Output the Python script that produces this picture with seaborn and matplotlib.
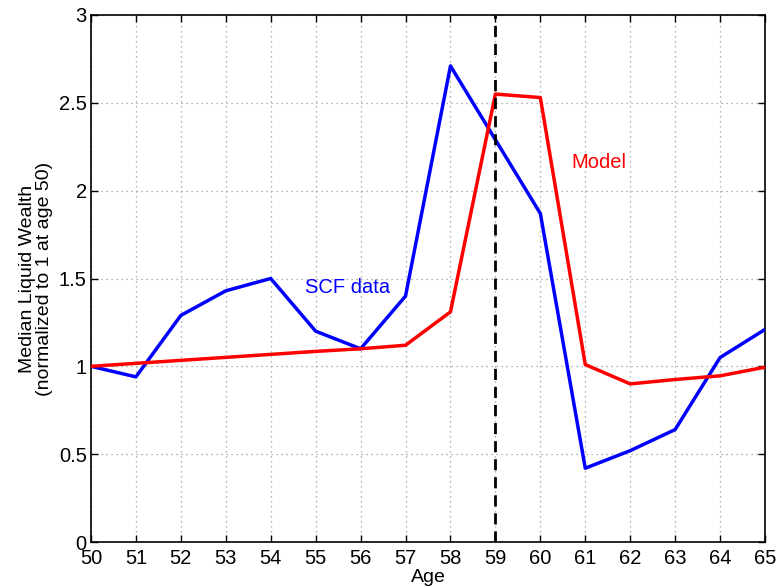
import matplotlib
matplotlib.use("Agg")
import matplotlib.pyplot as plt
import numpy as np
import pandas as pd
import seaborn as sns

# Ages and the two series
ages = list(range(50, 66))
scf_data = [1.00, 0.94, 1.29, 1.43, 1.50, 1.20, 1.10, 1.40,
            2.71, 2.29, 1.87, 0.42, 0.52, 0.64, 1.05, 1.21]
model = [1.00, 1.017, 1.034, 1.051, 1.068, 1.085, 1.10, 1.12,
         1.31, 2.55, 2.53, 1.01, 0.90, 0.925, 0.946, 0.995]
x_ticks = list(range(50, 66))
y_ticks = [0, 0.5, 1, 1.5, 2, 2.5, 3]
y_tick_labels = ["0", "0.5", "1", "1.5", "2", "2.5", "3"]
retire_age = 59

sns.set_theme(style="ticks")
plt.rcParams["font.family"] = ["Liberation Sans", "DejaVu Sans"]

df = pd.DataFrame({
    "Age": ages * 2,
    "Wealth": scf_data + model,
    "Series": ["SCF data"] * len(ages) + ["Model"] * len(ages),
})

fig = plt.figure(figsize=(7.77, 5.87), dpi=100)
ax = fig.add_axes([91 / 777, 45 / 587, 674 / 777, 527 / 587])

sns.lineplot(data=df, x="Age", y="Wealth", hue="Series",
             palette={"SCF data": "#0000ff", "Model": "#ff0000"},
             linewidth=2.5, legend=False, ax=ax, zorder=3)
ax.axvline(retire_age, color="black", linestyle=(0, (4, 2.5)), linewidth=2, zorder=4)

ax.set_xlim(50, 65)
ax.set_ylim(0, 3)
ax.set_xticks(x_ticks)
ax.set_yticks(y_ticks)
ax.set_yticklabels(y_tick_labels)
ax.grid(True, color="#999999", linestyle=(0, (1, 3)), linewidth=0.9)
ax.tick_params(direction="in", length=5, width=1, labelsize=14.5,
               top=True, right=True, pad=3, colors="black")
ax.tick_params(axis="x", pad=5)
for s in ax.spines.values():
    s.set_color("black")
    s.set_linewidth(1.2)

ax.set_xlabel("Age", fontsize=14, labelpad=1, color="black")
ax.set_ylabel("Median Liquid Wealth\n(normalized to 1 at age 50)", fontsize=14,
              labelpad=4, linespacing=1.0, color="black")

ax.text(54.76, 1.45, "SCF data", color="#0000ff", fontsize=14.5, va="center")
ax.text(60.68, 2.16, "Model", color="#ff0000", fontsize=14.5, va="center")

fig.savefig("out.png", dpi=100)
